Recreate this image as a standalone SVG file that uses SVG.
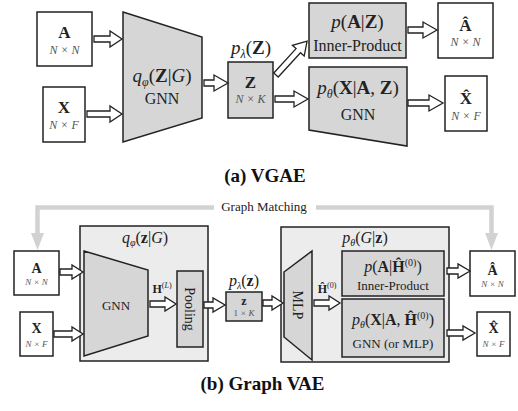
<svg xmlns="http://www.w3.org/2000/svg" width="518" height="411" viewBox="0 0 518 411" font-family="'Liberation Serif', serif">
<style>
.box{fill:#fff;stroke:#222;stroke-width:1.5}
.gbox{fill:#d6d6d6;stroke:#222;stroke-width:1.5}
.lbox{fill:#ececec;stroke:#222;stroke-width:1.5}
.ar{fill:#fff;stroke:#222;stroke-width:1.3;stroke-linejoin:miter}
.gm{fill:none;stroke:#d2d2d2;stroke-width:4.5}
.gh{fill:#d2d2d2}
text{font-family:'Liberation Serif',serif;fill:#222;text-anchor:middle}
.dim{font-style:italic;fill:#555}
.b{font-weight:bold}
.i{font-style:italic}
.cap{font-weight:bold;font-size:19px;fill:#111}
</style>
<rect width="518" height="411" fill="#fff"/>

<!-- (a) VGAE nodes -->
<g id="a-A"><rect class="box" x="37" y="12" width="55" height="54"/><text x="64.5" y="38" class="b" font-size="17">A</text><text x="64.5" y="54" class="dim" font-size="12">N × N</text></g>
<g id="a-X"><rect class="box" x="43" y="87" width="42" height="55"/><text x="64" y="113" class="b" font-size="17">X</text><text x="64" y="129" class="dim" font-size="12">N × F</text></g>
<g id="a-enc"><polygon class="gbox" points="123,12 202,37 202,118 123,142"/>
<text x="162" y="82" font-size="19"><tspan class="i">q</tspan><tspan class="i" font-size="12" dy="4">φ</tspan><tspan dy="-4">(</tspan><tspan class="b">Z</tspan>|<tspan class="i">G</tspan>)</text>
<text x="162" y="104" font-size="16">GNN</text></g>
<g id="a-Z"><text x="251" y="54" font-size="19"><tspan class="i">p</tspan><tspan class="i" font-size="12" dy="4">λ</tspan><tspan dy="-4">(</tspan><tspan class="b">Z</tspan>)</text>
<rect class="gbox" x="228" y="62" width="45" height="56"/><text x="250.5" y="88" class="b" font-size="17">Z</text><text x="250.5" y="103" class="dim" font-size="12">N × K</text></g>
<g id="a-pA"><rect class="gbox" x="309" y="3" width="97" height="55"/>
<text x="357.5" y="28" font-size="19"><tspan class="i">p</tspan>(<tspan class="b">A</tspan>|<tspan class="b">Z</tspan>)</text>
<text x="357.5" y="51" font-size="16">Inner-Product</text></g>
<g id="a-dec"><polygon class="gbox" points="309,67 407,67 407,146 309,130"/>
<text x="358" y="94" font-size="19"><tspan class="i">p</tspan><tspan class="i" font-size="12" dy="4">θ</tspan><tspan dy="-4">(</tspan><tspan class="b">X</tspan>|<tspan class="b">A</tspan>, <tspan class="b">Z</tspan>)</text>
<text x="358" y="120" font-size="16">GNN</text></g>
<g id="a-Ahat"><rect class="box" x="438" y="3" width="55" height="55"/><text x="465.5" y="31" class="b" font-size="17">Â</text><text x="465.5" y="46" class="dim" font-size="12">N × N</text></g>
<g id="a-Xhat"><rect class="box" x="445" y="76" width="42" height="55"/><text x="466" y="104" class="b" font-size="17">X̂</text><text x="466" y="120" class="dim" font-size="12">N × F</text></g>
<text x="265" y="182" class="cap">(a) VGAE</text>

<!-- (b) Graph VAE nodes -->
<g id="b-enc"><rect class="lbox" x="80" y="226" width="128" height="135"/>
<text x="145" y="243" font-size="16"><tspan class="i">q</tspan><tspan class="i" font-size="10" dy="3">φ</tspan><tspan dy="-3">(</tspan><tspan class="b">z</tspan>|<tspan class="i">G</tspan>)</text></g>
<g id="b-gnn"><polygon class="gbox" points="84,251 148,270 148,336 84,356"/><text x="116" y="310" font-size="13">GNN</text></g>
<g id="b-pool"><rect class="gbox" x="177" y="271" width="26" height="76"/><text transform="translate(190,309) rotate(90)" y="5" font-size="14">Pooling</text></g>
<g id="b-A"><rect class="box" x="14" y="251" width="45" height="44"/><text x="36.5" y="273" class="b" font-size="14">A</text><text x="36.5" y="285" class="dim" font-size="9">N × N</text></g>
<g id="b-X"><rect class="box" x="20" y="312" width="33" height="44"/><text x="36.5" y="333" class="b" font-size="14">X</text><text x="36.5" y="347" class="dim" font-size="9">N × F</text></g>
<g id="b-z"><text x="244" y="286" font-size="16"><tspan class="i">p</tspan><tspan class="i" font-size="10" dy="3">λ</tspan><tspan dy="-3">(</tspan><tspan class="b">z</tspan>)</text>
<rect class="gbox" x="226" y="292" width="36" height="29"/><text x="244" y="305" class="b" font-size="12">z</text><text x="244" y="316" class="dim" font-size="9"><tspan font-style="normal">1</tspan> × K</text></g>
<g id="b-dec"><rect class="lbox" x="281" y="227" width="168" height="135"/>
<text x="365" y="243" font-size="16"><tspan class="i">p</tspan><tspan class="i" font-size="10" dy="3">θ</tspan><tspan dy="-3">(</tspan><tspan class="i">G</tspan>|<tspan class="b">z</tspan>)</text></g>
<g id="b-mlp"><polygon class="gbox" points="284,272 312,251 312,360 284,337"/><text transform="translate(298,305) rotate(90)" y="5" font-size="14">MLP</text></g>
<g id="b-pA"><rect class="gbox" x="342" y="251" width="102" height="45"/>
<text x="393" y="272" font-size="16"><tspan class="i">p</tspan>(<tspan class="b">A</tspan>|<tspan class="b">Ĥ</tspan><tspan font-size="10" dy="-6">(0)</tspan><tspan dy="6">)</tspan></text>
<text x="393" y="290" font-size="13">Inner-Product</text></g>
<g id="b-pX"><rect class="gbox" x="342" y="299" width="102" height="58"/>
<text x="393" y="325" font-size="16"><tspan class="i">p</tspan><tspan class="i" font-size="10" dy="3">θ</tspan><tspan dy="-3">(</tspan><tspan class="b">X</tspan>|<tspan class="b">A</tspan>, <tspan class="b">Ĥ</tspan><tspan font-size="10" dy="-6">(0)</tspan><tspan dy="6">)</tspan></text>
<text x="393" y="348" font-size="13">GNN (or MLP)</text></g>
<g id="b-Ahat"><rect class="box" x="470" y="251" width="45" height="45"/><text x="492.5" y="275" class="b" font-size="14">Â</text><text x="492.5" y="287" class="dim" font-size="9">N × N</text></g>
<g id="b-Xhat"><rect class="box" x="477" y="312" width="33" height="44"/><text x="493.5" y="333" class="b" font-size="14">X̂</text><text x="493.5" y="347" class="dim" font-size="9">N × F</text></g>
<text x="262.5" y="390" class="cap">(b) Graph VAE</text>

<!-- connectors -->
<g id="connectors">
<path class="ar" d="M94,36 H110 V31 L122,39 L110,47 V42 H94 Z"/>
<path class="ar" d="M87,111 H110 V106 L122,114 L110,122 V117 H87 Z"/>
<path class="ar" d="M204,80 H214 V75 L228,83 L214,91 V86 H204 Z"/>
<path class="ar" d="M275,96 H294 V91 L308,99 L294,107 V102 H275 Z"/>
<path class="ar" transform="translate(276,75) rotate(-47.5)" d="M0,-3 H33 V-8 L46,0 L33,8 V3 H0 Z"/>
<path class="ar" d="M408,27 H423 V22 L437,30 L423,38 V33 H408 Z"/>
<path class="ar" d="M408,100 H429 V95 L443,103 L429,111 V106 H408 Z"/>

<path class="gm" d="M37.5,234 V207.5 H214"/>
<polygon class="gh" points="31,233 44,233 37.5,250"/>
<path class="gm" d="M316,207.5 H491.5 V234"/>
<polygon class="gh" points="485,233 498,233 491.5,250"/>
<text x="264" y="211" font-size="13">Graph Matching</text>

<path class="ar" d="M60,269 H72 V265 L83,272 L72,279 V275 H60 Z"/>
<path class="ar" d="M54,331 H72 V327 L83,334 L72,341 V337 H54 Z"/>
<path class="ar" d="M150,301 H165 V297 L176,304 L165,311 V307 H150 Z"/>
<text x="162" y="293" font-size="12"><tspan class="b">H</tspan><tspan font-size="8" dy="-5"><tspan>(</tspan><tspan class="i">L</tspan><tspan>)</tspan></tspan></text>
<path class="ar" d="M204,302 H213 V298 L225,305 L213,312 V308 H204 Z"/>
<path class="ar" d="M263,300 H272 V296 L283,303 L272,310 V306 H263 Z"/>
<path class="ar" d="M314,300 H329 V296 L340,303 L329,310 V306 H314 Z"/>
<text x="327" y="293" font-size="12"><tspan class="b">Ĥ</tspan><tspan font-size="8" dy="-5">(0)</tspan></text>
<path class="ar" d="M447,268 H458 V264 L470,271 L458,278 V274 H447 Z"/>
<path class="ar" d="M447,330 H463 V326 L475,333 L463,340 V336 H447 Z"/>
</g>
</svg>
